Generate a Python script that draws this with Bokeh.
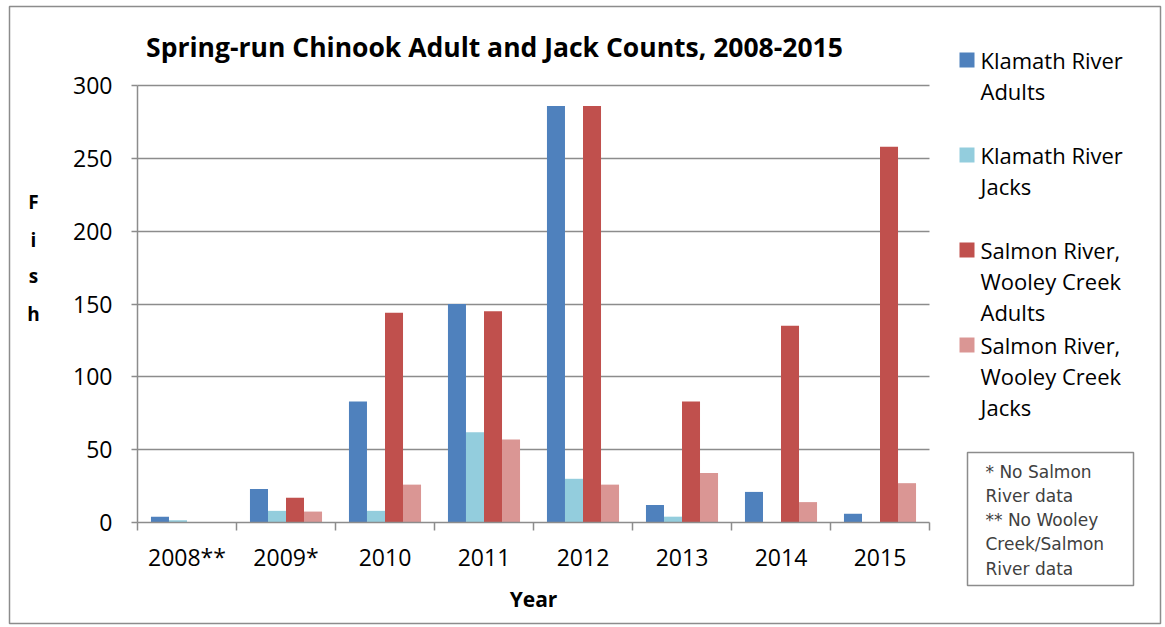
from bokeh.plotting import figure
from bokeh.models import (ColumnDataSource, Range1d, FixedTicker, Label, BoxAnnotation, LinearAxis)
from bokeh.embed import file_html
from bokeh.resources import INLINE

years = ["2008**", "2009*", "2010", "2011", "2012", "2013", "2014", "2015"]
klamath_adults = [4, 23, 83, 150, 286, 12, 21, 6]
klamath_jacks = [1.5, 8, 8, 62, 30, 4, 0, 0]
salmon_adults = [0, 17, 144, 145, 286, 83, 135, 258]
salmon_jacks = [0, 7.5, 26, 57, 26, 34, 14, 27]
series_names = ["Klamath River\nAdults", "Klamath River\nJacks",
                "Salmon River,\nWooley Creek\nAdults", "Salmon River,\nWooley Creek\nJacks"]
colors = ["#4F81BD", "#93CDDD", "#C0504D", "#DA9694"]
yticks = [0, 50, 100, 150, 200, 250, 300]
note_lines = ["* No Salmon", "River data", "** No Wooley", "Creek/Salmon", "River data"]

FONT = "Open Sans"
W, H = 1162, 625
# desired plot area on the page (px)
PL, PR, PT, PB = 137, 929, 85, 522
ncat = len(years)
ymax = 300
sx = (PR - PL) / ncat
sy = (PB - PT) / ymax

p = figure(width=W, height=H, output_backend="svg", toolbar_location=None,
           x_axis_location=None, y_axis_location=None,
           x_range=Range1d(-PL / sx, ncat + (W - PR) / sx),
           y_range=Range1d(-(H - PB) / sy, ymax + PT / sy),
           min_border=0)
p.outline_line_color = None
p.background_fill_color = "white"
p.border_fill_color = "white"

centers = [i + 0.5 for i in range(ncat)]
bw = 0.182
series = [klamath_adults, klamath_jacks, salmon_adults, salmon_jacks]
for k, vals in enumerate(series):
    off = (k - 1.5) * bw
    src = ColumnDataSource(dict(x=[c + off for c in centers], top=vals))
    p.vbar(x="x", top="top", width=bw, bottom=0, source=src,
           fill_color=colors[k], line_color=None)

GRAY = "#8c8c8c"

# y axis (fixed inside the canvas)
ya = LinearAxis(fixed_location=0, bounds=(0, ymax))
ya.ticker = FixedTicker(ticks=yticks)
ya.axis_line_color = GRAY
ya.axis_line_width = 1.5
ya.major_tick_line_color = GRAY
ya.major_tick_line_width = 1.5
ya.major_tick_out = 6
ya.major_tick_in = 0
ya.minor_tick_line_color = None
ya.major_label_standoff = 19
ya.major_label_text_font = FONT
ya.major_label_text_font_size = "23px"
ya.major_label_text_color = "black"
p.add_layout(ya, "left")

# x axis
xa = LinearAxis(fixed_location=0, bounds=(0, ncat))
xa.ticker = FixedTicker(ticks=centers, minor_ticks=list(range(ncat + 1)))
xa.major_label_overrides = {c: y for c, y in zip(centers, years)}
xa.axis_line_color = GRAY
xa.axis_line_width = 1.5
xa.major_tick_line_color = None
xa.major_tick_out = 0
xa.major_tick_in = 0
xa.minor_tick_line_color = GRAY
xa.minor_tick_line_width = 1.5
xa.minor_tick_out = 8
xa.minor_tick_in = 0
xa.major_label_standoff = 10
xa.major_label_text_font = FONT
xa.major_label_text_font_size = "23px"
xa.major_label_text_color = "black"
p.add_layout(xa, "below")

# grid only across the plot area
p.ygrid.ticker = FixedTicker(ticks=yticks[1:])
p.ygrid.grid_line_color = GRAY
p.ygrid.grid_line_width = 1.5
p.ygrid.bounds = (0, ymax)
p.ygrid.cross_bounds = (0, ncat)
p.xgrid.visible = False


def lab(px, py, text, size="21px", bold=False, align="left", color="black", font=FONT):
    p.add_layout(Label(x=px, y=H - py, x_units="screen", y_units="screen",
                       text=text, text_font=font, text_font_size=size,
                       text_font_style="bold" if bold else "normal",
                       text_align=align, text_baseline="middle", text_color=color))


def box(l, t, r, b, fill=None, line=None, lw=1.5):
    p.add_layout(BoxAnnotation(left=l, right=r, top=H - t, bottom=H - b,
                               left_units="screen", right_units="screen",
                               top_units="screen", bottom_units="screen",
                               fill_color=fill if fill else "white",
                               fill_alpha=1.0 if fill else 0.0,
                               line_color=line, line_width=lw, line_alpha=1.0 if line else 0.0))


# outer chart border
box(9, 6, 1160, 623, line=GRAY)

lab(494, 46, "Spring-run Chinook Adult and Jack Counts, 2008-2015", size="26.5px", bold=True, align="center")
lab(533, 598, "Year", size="21px", bold=True, align="center")
for ch, py in zip("Fish", [201, 239, 275, 313]):
    lab(33, py, ch, size="19px", bold=True, align="center")

# legend
leg_y = [59, 154, 249, 344]
for k, name in enumerate(series_names):
    box(959, leg_y[k] - 7, 974, leg_y[k] + 8, fill=colors[k], line=None)
    for j, ln in enumerate(name.split("\n")):
        lab(980, leg_y[k] + j * 31, ln, size="22px")

# note box
box(967, 452, 1133, 585, line=GRAY)
for j, ln in enumerate(note_lines):
    lab(985, 471 + j * 24.3, ln, size="17px", color="#404040", font="DejaVu Sans")

open("out.html", "w").write(file_html(p, INLINE))
